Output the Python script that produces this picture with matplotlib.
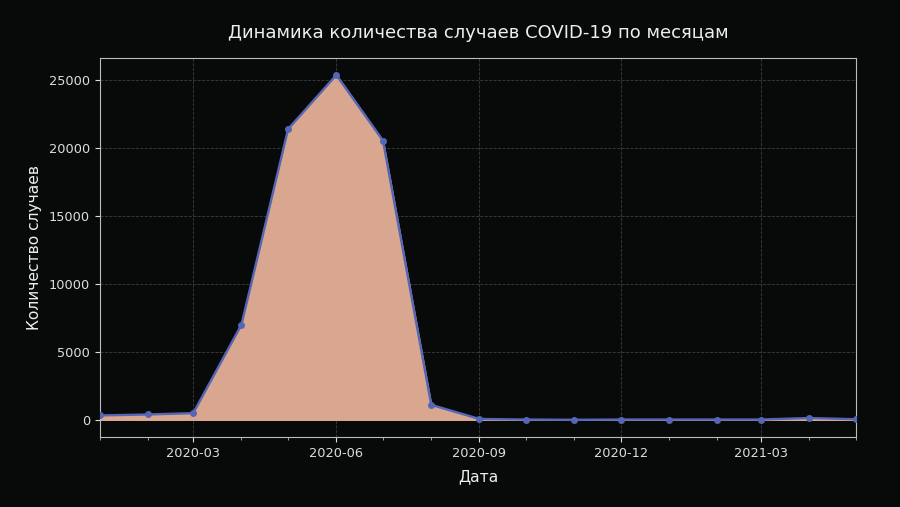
import matplotlib
matplotlib.use("Agg")
import matplotlib.pyplot as plt
import matplotlib.dates as mdates
import pandas as pd

months = pd.date_range("2020-01-01", "2021-05-01", freq="MS")
cases = [320, 390, 490, 6990, 21380, 25350, 20520, 1100, 60, 20, 0, 20, 20, 20, 20, 130, 40]

bg = "#080a0a"
fig = plt.figure(figsize=(9, 5.07), dpi=100, facecolor=bg)
ax = fig.add_axes([0.111, 0.138, 0.84, 0.748], facecolor=bg)

ax.fill_between(months, cases, color="#d9a790", zorder=2)
ax.plot(months, cases, color="#5566b5", linewidth=1.7, marker="o", markersize=4, zorder=3)

ax.set_xlim(months[0], months[-1])
ax.xaxis.set_major_locator(mdates.MonthLocator(bymonth=[3, 6, 9, 12]))
ax.xaxis.set_minor_locator(mdates.MonthLocator())
ax.xaxis.set_major_formatter(mdates.DateFormatter("%Y-%m"))

ax.grid(True, which="major", linestyle="--", color="#4a4a4a", alpha=0.8, linewidth=0.6, zorder=0)
for s in ax.spines.values():
    s.set_color("#bbbbbb")
ax.tick_params(colors="#dddddd", labelsize=9.3)
ax.tick_params(which="minor", colors="#bbbbbb")

ax.set_title("Динамика количества случаев COVID-19 по месяцам", color="#eeeeee", fontsize=13, pad=14)
ax.set_xlabel("Дата", color="#eeeeee", fontsize=11.2, labelpad=7)
ax.set_ylabel("Количество случаев", color="#eeeeee", fontsize=11.2, labelpad=5)

fig.savefig("out.png", dpi=100, facecolor=bg)
